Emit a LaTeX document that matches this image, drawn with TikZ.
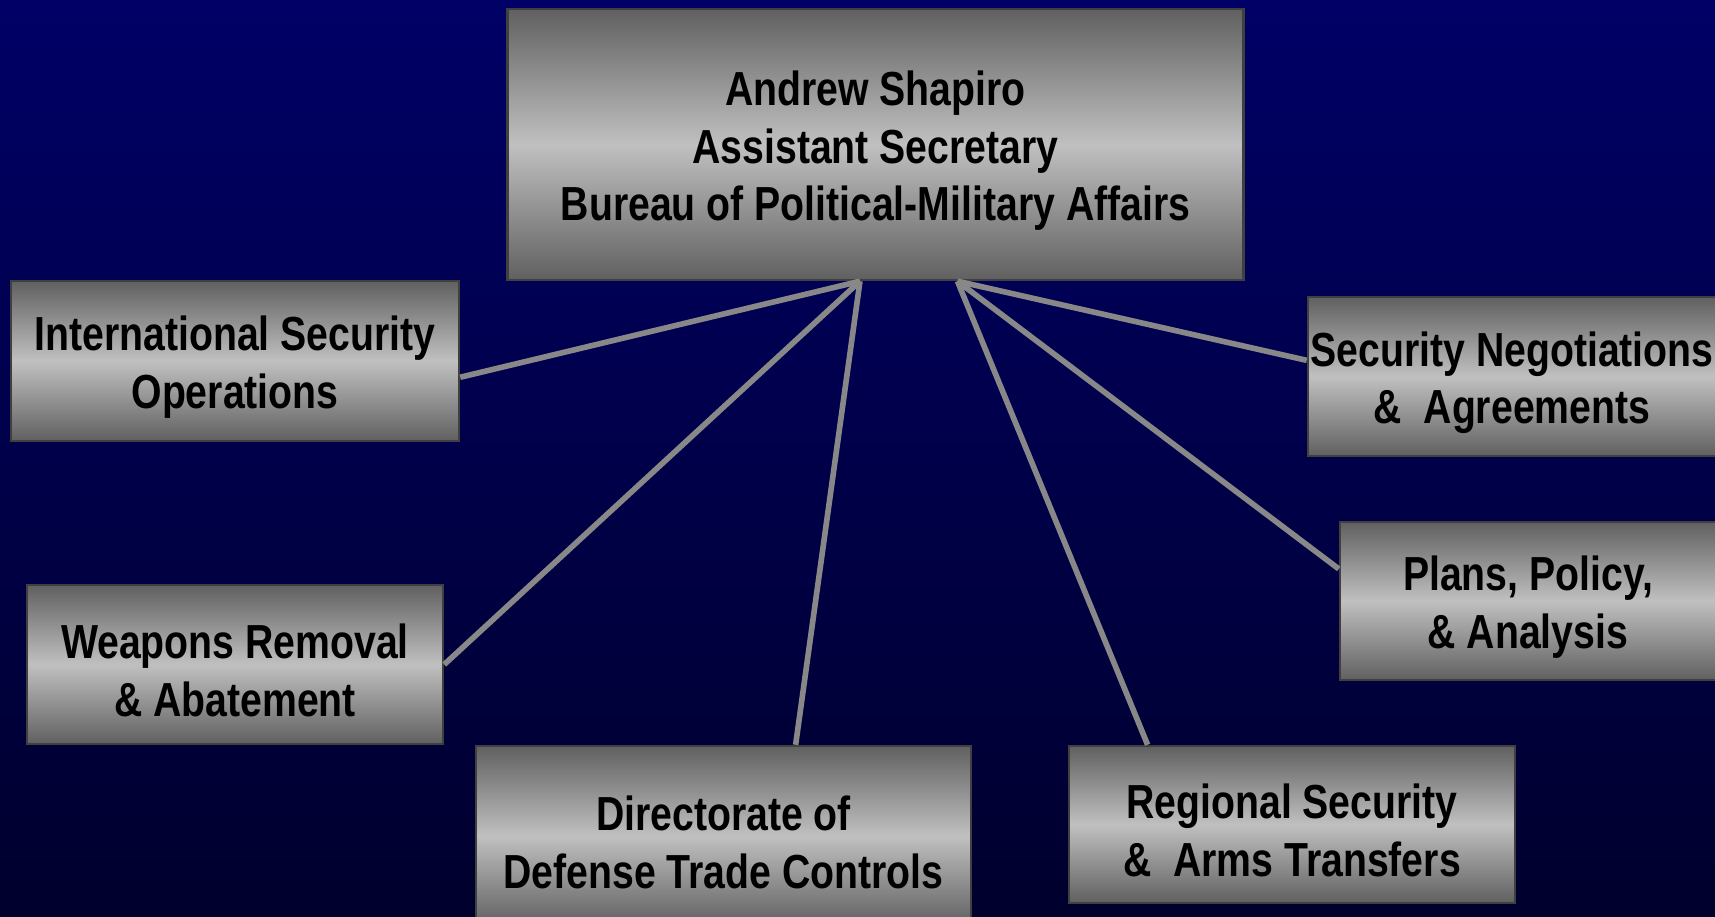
\documentclass[tikz,border=0pt]{standalone}
\usepackage{fontspec}
\setmainfont{Liberation Sans}[FakeStretch=0.82]
\usetikzlibrary{calc}
\definecolor{navytop}{RGB}{0,0,102}
\definecolor{navybot}{RGB}{0,0,45}
\definecolor{boxdark}{RGB}{96,96,96}
\definecolor{boxlight}{RGB}{192,192,192}
\definecolor{boxedge}{RGB}{64,64,64}
\definecolor{wire}{RGB}{136,136,136}
\newcommand{\drop}{\rule{0pt}{13.4pt}}

\begin{document}
\begin{tikzpicture}[x=0.1mm,y=-0.1mm,
  unit/.style={draw=boxedge,line width=0.7pt,top color=boxdark,bottom color=boxdark,middle color=boxlight,
    align=center,inner sep=0pt,font=\fontsize{13.6}{16.4}\selectfont\bfseries},
  link/.style={draw=wire,line width=1.6pt}]
\useasboundingbox (0,0) rectangle (1715,917);
\clip (0,0) rectangle (1715,917);
\shade[top color=navytop,bottom color=navybot] (0,0) rectangle (1715,917);

\node[unit,minimum width=73.6mm,minimum height=27.1mm] (chief) at (875.5,144.5) {\drop Andrew Shapiro\\Assistant Secretary\\Bureau of Political-Military Affairs};
\node[unit,minimum width=44.8mm,minimum height=16mm] (iso) at (235,361) {\drop International Security\\Operations};
\node[unit,minimum width=41.6mm,minimum height=15.9mm] (wra) at (235,664.5) {\drop Weapons Removal\\\& Abatement};
\node[unit,minimum width=49.5mm,minimum height=18mm] (ddtc) at (723.5,836) {\drop Directorate of\\Defense Trade Controls};
\node[unit,minimum width=44.6mm,minimum height=15.7mm] (rsat) at (1292,824.5) {\drop Regional Security\\\&~ Arms Transfers};
\node[unit,minimum width=40.8mm,minimum height=15.9mm] (sna) at (1512,376.5) {\drop Security Negotiations\\\&~ Agreements};
\node[unit,minimum width=37.6mm,minimum height=15.8mm] (ppa) at (1528,601) {\drop Plans, Policy,\\\& Analysis};

\coordinate (hubL) at ($(chief.south west)!0.479!(chief.south east)$);
\coordinate (hubR) at ($(chief.south west)!0.611!(chief.south east)$);

\draw[link] (hubL) -- ($(iso.north east)!0.6!(iso.south east)$);
\draw[link] (hubL) -- (wra.east);
\draw[link] (hubL) -- ($(ddtc.north west)!0.645!(ddtc.north east)$);
\draw[link] (hubR) -- ($(rsat.north west)!0.178!(rsat.north east)$);
\draw[link] (hubR) -- ($(ppa.north west)!0.3!(ppa.south west)$);
\draw[link] (hubR) -- ($(sna.north west)!0.4!(sna.south west)$);
\end{tikzpicture}
\end{document}
